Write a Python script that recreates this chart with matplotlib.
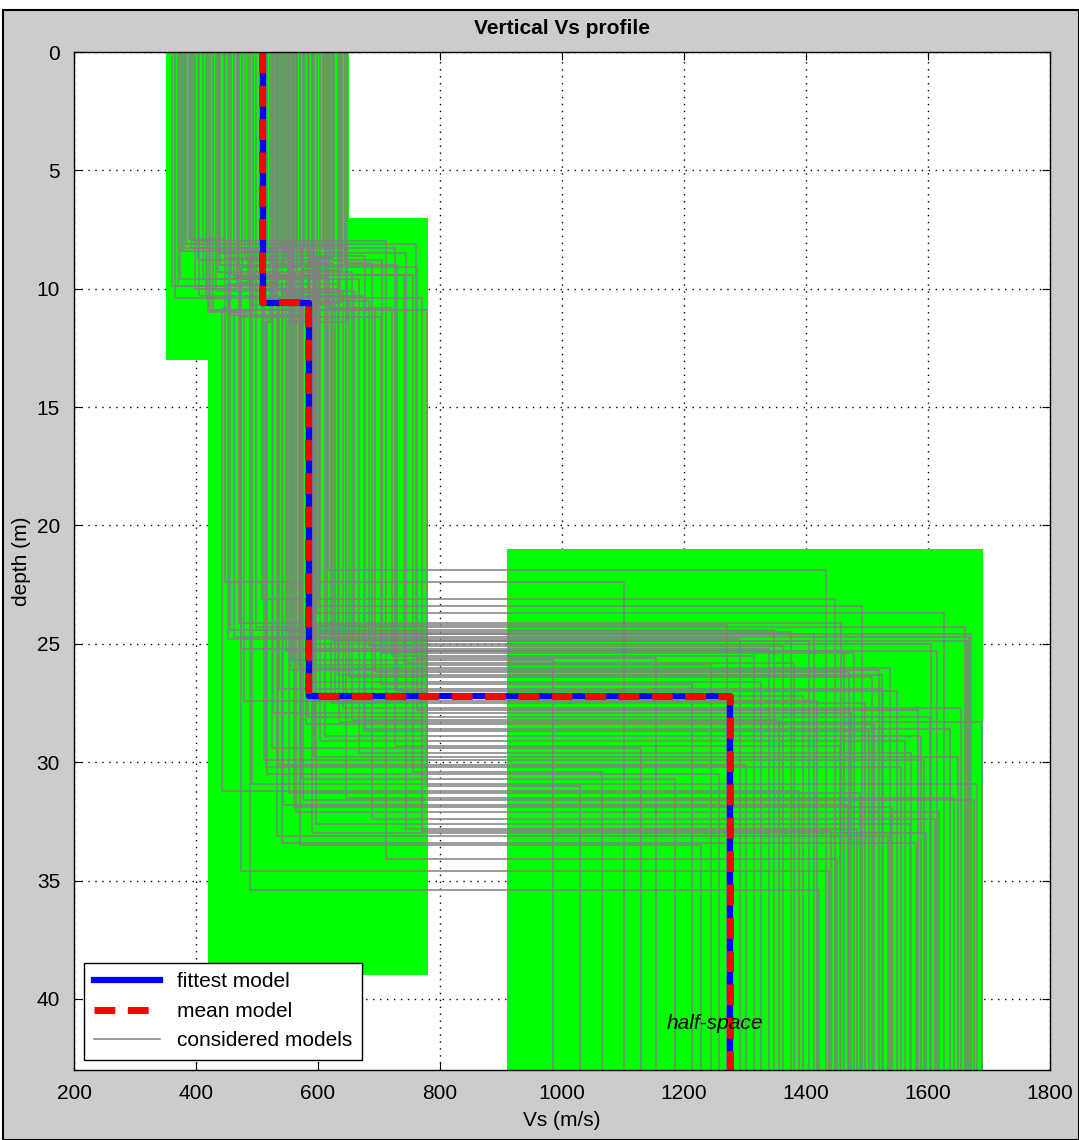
import matplotlib
matplotlib.use("Agg")
import matplotlib.pyplot as plt
from matplotlib.patches import Rectangle

plt.rcParams['font.family'] = ['Liberation Sans', 'DejaVu Sans']

# search space for each layer (Vs limits and depth limits)
vs_min = [350, 420, 910]
vs_max = [650, 780, 1690]
depth_top = [0, 7, 21]
depth_bot = [13, 39, 43]

# fittest and mean models: Vs of 3 layers, depth of 2 interfaces
fit_vs = [510, 585, 1275]
fit_depth = [10.6, 27.2]
mean_vs = [508, 583, 1276]
mean_depth = [10.55, 27.2]

# considered models (approximate)
vs1 = [412, 538, 366, 590, 471, 627, 433, 552, 389, 505,
       645, 458, 521, 377, 611, 486, 564, 423, 598, 447,
       532, 361, 579, 494, 640, 405, 548, 469, 618, 395,
       513, 586, 438, 559, 374, 633, 481, 527, 416, 603,
       455, 570, 392, 541, 499, 622, 428, 565, 383, 594,
       462, 517, 648, 440, 575, 403, 534, 489, 609, 370,
       551, 446, 583, 419, 525, 636, 476, 561, 398, 508,
       614, 452, 544, 380, 592, 467, 529, 624, 436, 556]
d1 = [9.6, 8.2, 10.4, 9.1, 11.2, 8.6, 10.1, 9.8, 7.9, 10.7,
      8.9, 9.4, 11.4, 8.4, 10.2, 9.7, 8.1, 10.9, 9.3, 8.7,
      10.5, 9.9, 8.3, 11.0, 9.2, 10.3, 8.8, 9.5, 10.8, 8.0,
      9.0, 10.6, 8.5, 11.3, 9.6, 10.0, 8.6, 9.4, 10.4, 8.9,
      11.1, 9.1, 8.3, 10.2, 9.8, 8.7, 10.9, 9.3, 8.1, 10.5,
      9.5, 8.4, 11.4, 9.0, 10.1, 8.8, 9.7, 10.7, 8.2, 9.9,
      10.3, 8.5, 9.2, 11.0, 8.9, 10.6, 9.6, 8.0, 10.0, 9.4,
      8.6, 10.8, 9.1, 8.3, 11.2, 9.8, 10.4, 8.7, 9.3, 10.2]
vs2 = [548, 612, 456, 575, 703, 532, 659, 594, 447, 621,
       688, 741, 515, 587, 635, 473, 556, 778, 599, 526,
       684, 541, 727, 462, 572, 650, 489, 583, 722, 560,
       498, 628, 745, 592, 668, 509, 677, 755, 536, 615,
       590, 473, 553, 641, 452, 603, 694, 564, 760, 580,
       617, 491, 549, 730, 571, 705, 512, 588, 646, 470,
       675, 558, 596, 479, 624, 534, 569, 712, 585, 525,
       601, 442, 763, 574, 517, 632, 770, 595, 656, 543]
d2 = [25.3, 28.9, 24.4, 31.6, 26.7, 33.1, 24.9, 29.8, 22.4, 27.5,
      32.4, 25.8, 30.2, 24.2, 28.3, 34.6, 26.1, 31.0, 23.7, 27.9,
      25.1, 33.4, 29.3, 24.7, 30.7, 26.4, 35.4, 28.1, 25.5, 31.9,
      24.3, 27.2, 32.8, 25.9, 29.6, 23.1, 28.6, 30.4, 26.9, 24.6,
      33.0, 25.2, 31.3, 27.7, 24.8, 29.1, 26.2, 32.1, 25.6, 28.4,
      21.9, 30.9, 24.5, 27.0, 33.5, 25.4, 29.9, 26.6, 31.5, 24.1,
      28.7, 25.7, 32.6, 27.4, 24.9, 30.1, 26.0, 34.1, 25.3, 29.4,
      23.4, 31.2, 27.8, 24.6, 30.5, 26.3, 32.9, 25.0, 28.2, 31.8]
vs3 = [1462, 1588, 1347, 1675, 1213, 1534, 1405, 1649, 1102, 1496,
       1611, 1381, 1555, 1270, 1688, 1438, 1519, 1029, 1627, 1474,
       1362, 1580, 1455, 1667, 1186, 1508, 1421, 1603, 1314, 1541,
       1660, 1395, 1484, 1245, 1572, 1447, 1636, 1066, 1527, 1413,
       1596, 1339, 1489, 1654, 1292, 1563, 1470, 1618, 1154, 1512,
       1432, 1681, 1375, 1549, 1228, 1478, 1593, 1327, 1642, 1458,
       1503, 985, 1571, 1418, 1664, 1301, 1537, 1450, 1615, 1129,
       1492, 1389, 1583, 1671, 1257, 1524, 1441, 1605, 1356, 1469]

zmax = 43


def step(vs, depth):
    # turn layer velocities + interface depths into a staircase
    xs, ys = [], []
    tops = [0] + list(depth)
    bots = list(depth) + [zmax]
    for v, t, b in zip(vs, tops, bots):
        xs += [v, v]
        ys += [t, b]
    return xs, ys


fig = plt.figure(figsize=(10.79, 11.40), dpi=100, facecolor='white')
# MATLAB-like grey figure window with black frame
fig.patches.append(Rectangle((3 / 1079, 0), 1 - 3 / 1079, 1 - 10 / 1140,
                             transform=fig.transFigure, facecolor='#cccccc',
                             edgecolor='black', linewidth=1.5, zorder=-10))

ax = fig.add_axes([74 / 1079, 70 / 1140, 976 / 1079, 1018 / 1140])
ax.set_facecolor('white')

for lo, hi, t, b in zip(vs_min, vs_max, depth_top, depth_bot):
    ax.fill_betweenx([t, b], lo, hi, color='#00ff00', lw=0, zorder=1)

for i in range(len(vs1)):
    xs, ys = step([vs1[i], vs2[i], vs3[i]], [d1[i], d2[i]])
    lab = 'considered models' if i == 0 else None
    ax.plot(xs, ys, color='#808080', lw=1.1, zorder=2, label=lab)

xs, ys = step(fit_vs, fit_depth)
ax.plot(xs, ys, color='#0000ff', lw=4.5, zorder=3, label='fittest model')
xs, ys = step(mean_vs, mean_depth)
ax.plot(xs, ys, color='#ff0000', lw=5, dashes=(3, 1.8), zorder=4, label='mean model')

ax.text(1250, 41.05, 'half-space', fontsize=15, style='italic', ha='center', va='center', zorder=5)

ax.set_xlim(200, 1800)
ax.set_ylim(zmax, 0)
ax.set_xticks(range(200, 1801, 200))
ax.set_yticks(range(0, 41, 5))
ax.grid(True, color='black', linestyle=(0, (1, 4)), linewidth=1)
ax.set_axisbelow(True)
ax.tick_params(direction='in', top=True, right=True, labelsize=15, length=6)
ax.tick_params(axis='y', pad=10)
ax.tick_params(axis='x', pad=10)
for s in ax.spines.values():
    s.set_linewidth(1)
    s.set_zorder(6)

ax.set_title('Vertical Vs profile', fontsize=15, fontweight='bold', pad=13)
ax.set_xlabel('Vs (m/s)', fontsize=15, labelpad=6)
ax.set_ylabel('depth (m)', fontsize=15, labelpad=4)

h, l = ax.get_legend_handles_labels()
order = [l.index('fittest model'), l.index('mean model'), l.index('considered models')]
leg = ax.legend([h[k] for k in order], [l[k] for k in order], loc='lower left',
                fontsize=15, fancybox=False, framealpha=1, edgecolor='black',
                borderaxespad=0.5, handlelength=3.2, labelspacing=0.5,
                borderpad=0.45)
leg.get_frame().set_linewidth(1)
leg.set_zorder(10)

fig.savefig('out.png', dpi=100, facecolor=fig.get_facecolor())
